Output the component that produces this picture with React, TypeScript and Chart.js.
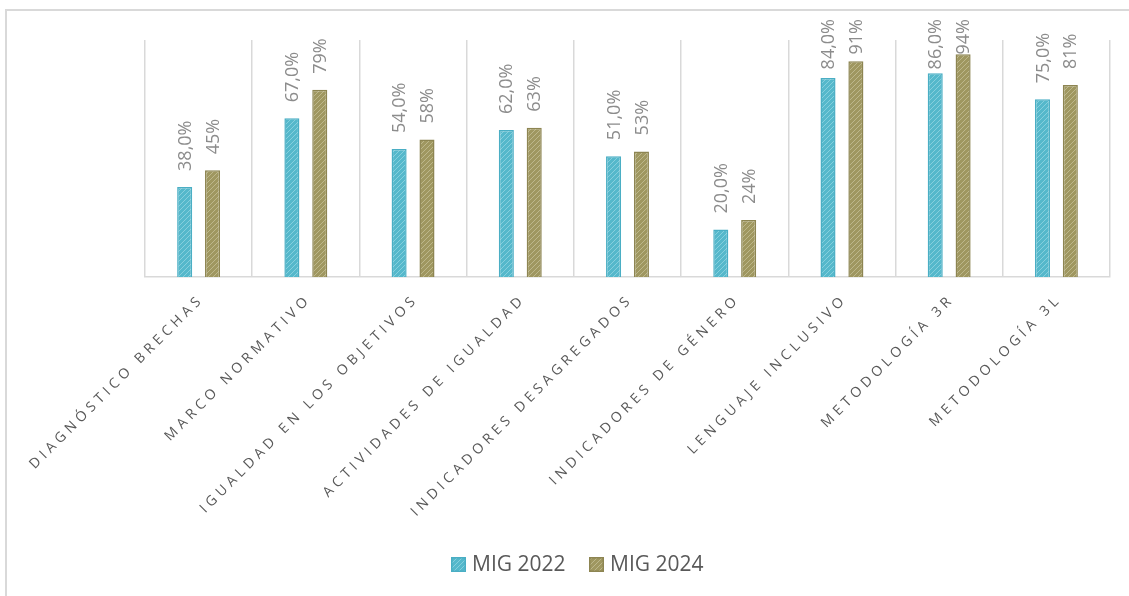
import { useEffect, useRef } from 'react';
import { Chart, registerables } from 'chart.js';

Chart.register(...registerables);

const categories = [
  'DIAGNÓSTICO BRECHAS',
  'MARCO NORMATIVO',
  'IGUALDAD EN LOS OBJETIVOS',
  'ACTIVIDADES DE IGUALDAD',
  'INDICADORES DESAGREGADOS',
  'INDICADORES DE GÉNERO',
  'LENGUAJE INCLUSIVO',
  'METODOLOGÍA 3R',
  'METODOLOGÍA 3L',
];
const mig2022 = [38, 67, 54, 62, 51, 20, 84, 86, 75];
const mig2024 = [45, 79, 58, 63, 53, 24, 91, 94, 81];
const seriesNames = ['MIG 2022', 'MIG 2024'];

const fmt2022 = (v: number) => v.toFixed(1).replace('.', ',') + '%';
const fmt2024 = (v: number) => Math.round(v) + '%';

function makePattern(ctx: CanvasRenderingContext2D, base: string, line: string) {
  const c = document.createElement('canvas');
  c.width = 5;
  c.height = 5;
  const g = c.getContext('2d')!;
  g.fillStyle = base;
  g.fillRect(0, 0, 5, 5);
  g.strokeStyle = line;
  g.lineWidth = 1;
  g.beginPath();
  g.moveTo(-1, 6);
  g.lineTo(6, -1);
  g.moveTo(-3, 3);
  g.lineTo(3, -3);
  g.moveTo(2, 8);
  g.lineTo(8, 2);
  g.stroke();
  return ctx.createPattern(c, 'repeat')!;
}

export default function App() {
  const ref = useRef<HTMLCanvasElement>(null);

  useEffect(() => {
    const canvas = ref.current!;
    const ctx = canvas.getContext('2d')!;
    const tealPat = makePattern(ctx, '#55b8cb', '#86cfdd');
    const olivePat = makePattern(ctx, '#9f9760', '#bdb78b');
    const fills = [tealPat, olivePat];
    const borders = ['#4aaec4', '#8d8552'];
    const formats = [fmt2022, fmt2024];

    const overlay = {
      id: 'overlay',
      afterDatasetsDraw(chart: any) {
        const c = chart.ctx;
        chart.data.datasets.forEach((ds: any, i: number) => {
          const meta = chart.getDatasetMeta(i);
          meta.data.forEach((bar: any, j: number) => {
            const text = formats[i](ds.data[j]);
            c.save();
            c.font = '18px "Open Sans"';
            const w = c.measureText(text).width;
            let bottom = bar.y - 16;
            if (bottom - w < 19) bottom = 19 + w;
            c.translate(bar.x + 1, bottom);
            c.rotate(-Math.PI / 2);
            c.textAlign = 'left';
            c.textBaseline = 'middle';
            c.fillStyle = '#8c8c8c';
            c.fillText(text, 0, 0);
            c.restore();
          });
        });
      },
      afterDraw(chart: any) {
        const c = chart.ctx;
        const xs = chart.scales.x;
        // category labels
        categories.forEach((cat, i) => {
          const x = xs.getPixelForTick(i);
          c.save();
          c.translate(x, 300);
          c.rotate(-Math.PI / 4);
          c.font = '14px "Open Sans"';
          (c as any).letterSpacing = '4.3px';
          c.textAlign = 'right';
          c.textBaseline = 'middle';
          c.fillStyle = '#595959';
          c.fillText(cat, 4.3, 0);
          c.restore();
        });
        // legend
        const legendX = [451, 589];
        c.save();
        c.font = '21px "Open Sans"';
        c.textBaseline = 'middle';
        c.textAlign = 'left';
        seriesNames.forEach((name, i) => {
          const bx = legendX[i];
          c.fillStyle = fills[i];
          c.fillRect(bx, 557, 15, 15);
          c.strokeStyle = borders[i];
          c.lineWidth = 1.5;
          c.strokeRect(bx + 0.75, 557.75, 13.5, 13.5);
          c.fillStyle = '#595959';
          c.fillText(name, bx + 21, 565);
        });
        c.restore();
        // frame
        c.save();
        c.strokeStyle = '#d9d9d9';
        c.lineWidth = 2;
        c.beginPath();
        c.moveTo(6, 600);
        c.lineTo(6, 10);
        c.lineTo(1135, 10);
        c.stroke();
        c.restore();
      },
    };

    const chart = new Chart(canvas, {
      type: 'bar',
      data: {
        labels: categories,
        datasets: [
          {
            label: seriesNames[0],
            data: mig2022,
            backgroundColor: tealPat,
            borderColor: borders[0],
            borderWidth: 1.5,
            categoryPercentage: 0.52,
            barPercentage: 0.54,
          },
          {
            label: seriesNames[1],
            data: mig2024,
            backgroundColor: olivePat,
            borderColor: borders[1],
            borderWidth: 1.5,
            categoryPercentage: 0.52,
            barPercentage: 0.54,
          },
        ],
      },
      options: {
        responsive: false,
        animation: false,
        devicePixelRatio: 1,
        layout: { padding: { left: 145, right: 19, top: 40, bottom: 319 } },
        plugins: {
          legend: { display: false },
          tooltip: { enabled: false },
        },
        scales: {
          x: {
            afterFit: (s: any) => {
              s.height = 0;
            },
            grid: {
              display: true,
              color: '#d9d9d9',
              lineWidth: 1.5,
              drawTicks: false,
              offset: true,
            },
            border: { display: true, color: '#d9d9d9', width: 1.5 },
            ticks: { display: false },
          },
          y: {
            display: false,
            min: 0,
            max: 100,
          },
        },
      },
      plugins: [overlay],
    });

    return () => chart.destroy();
  }, []);

  return (
    <div style={{ position: 'fixed', left: 0, top: 0, width: 1129, height: 596, background: '#fff' }}>
      <canvas ref={ref} width={1129} height={596} style={{ display: 'block', width: 1129, height: 596 }} />
    </div>
  );
}
